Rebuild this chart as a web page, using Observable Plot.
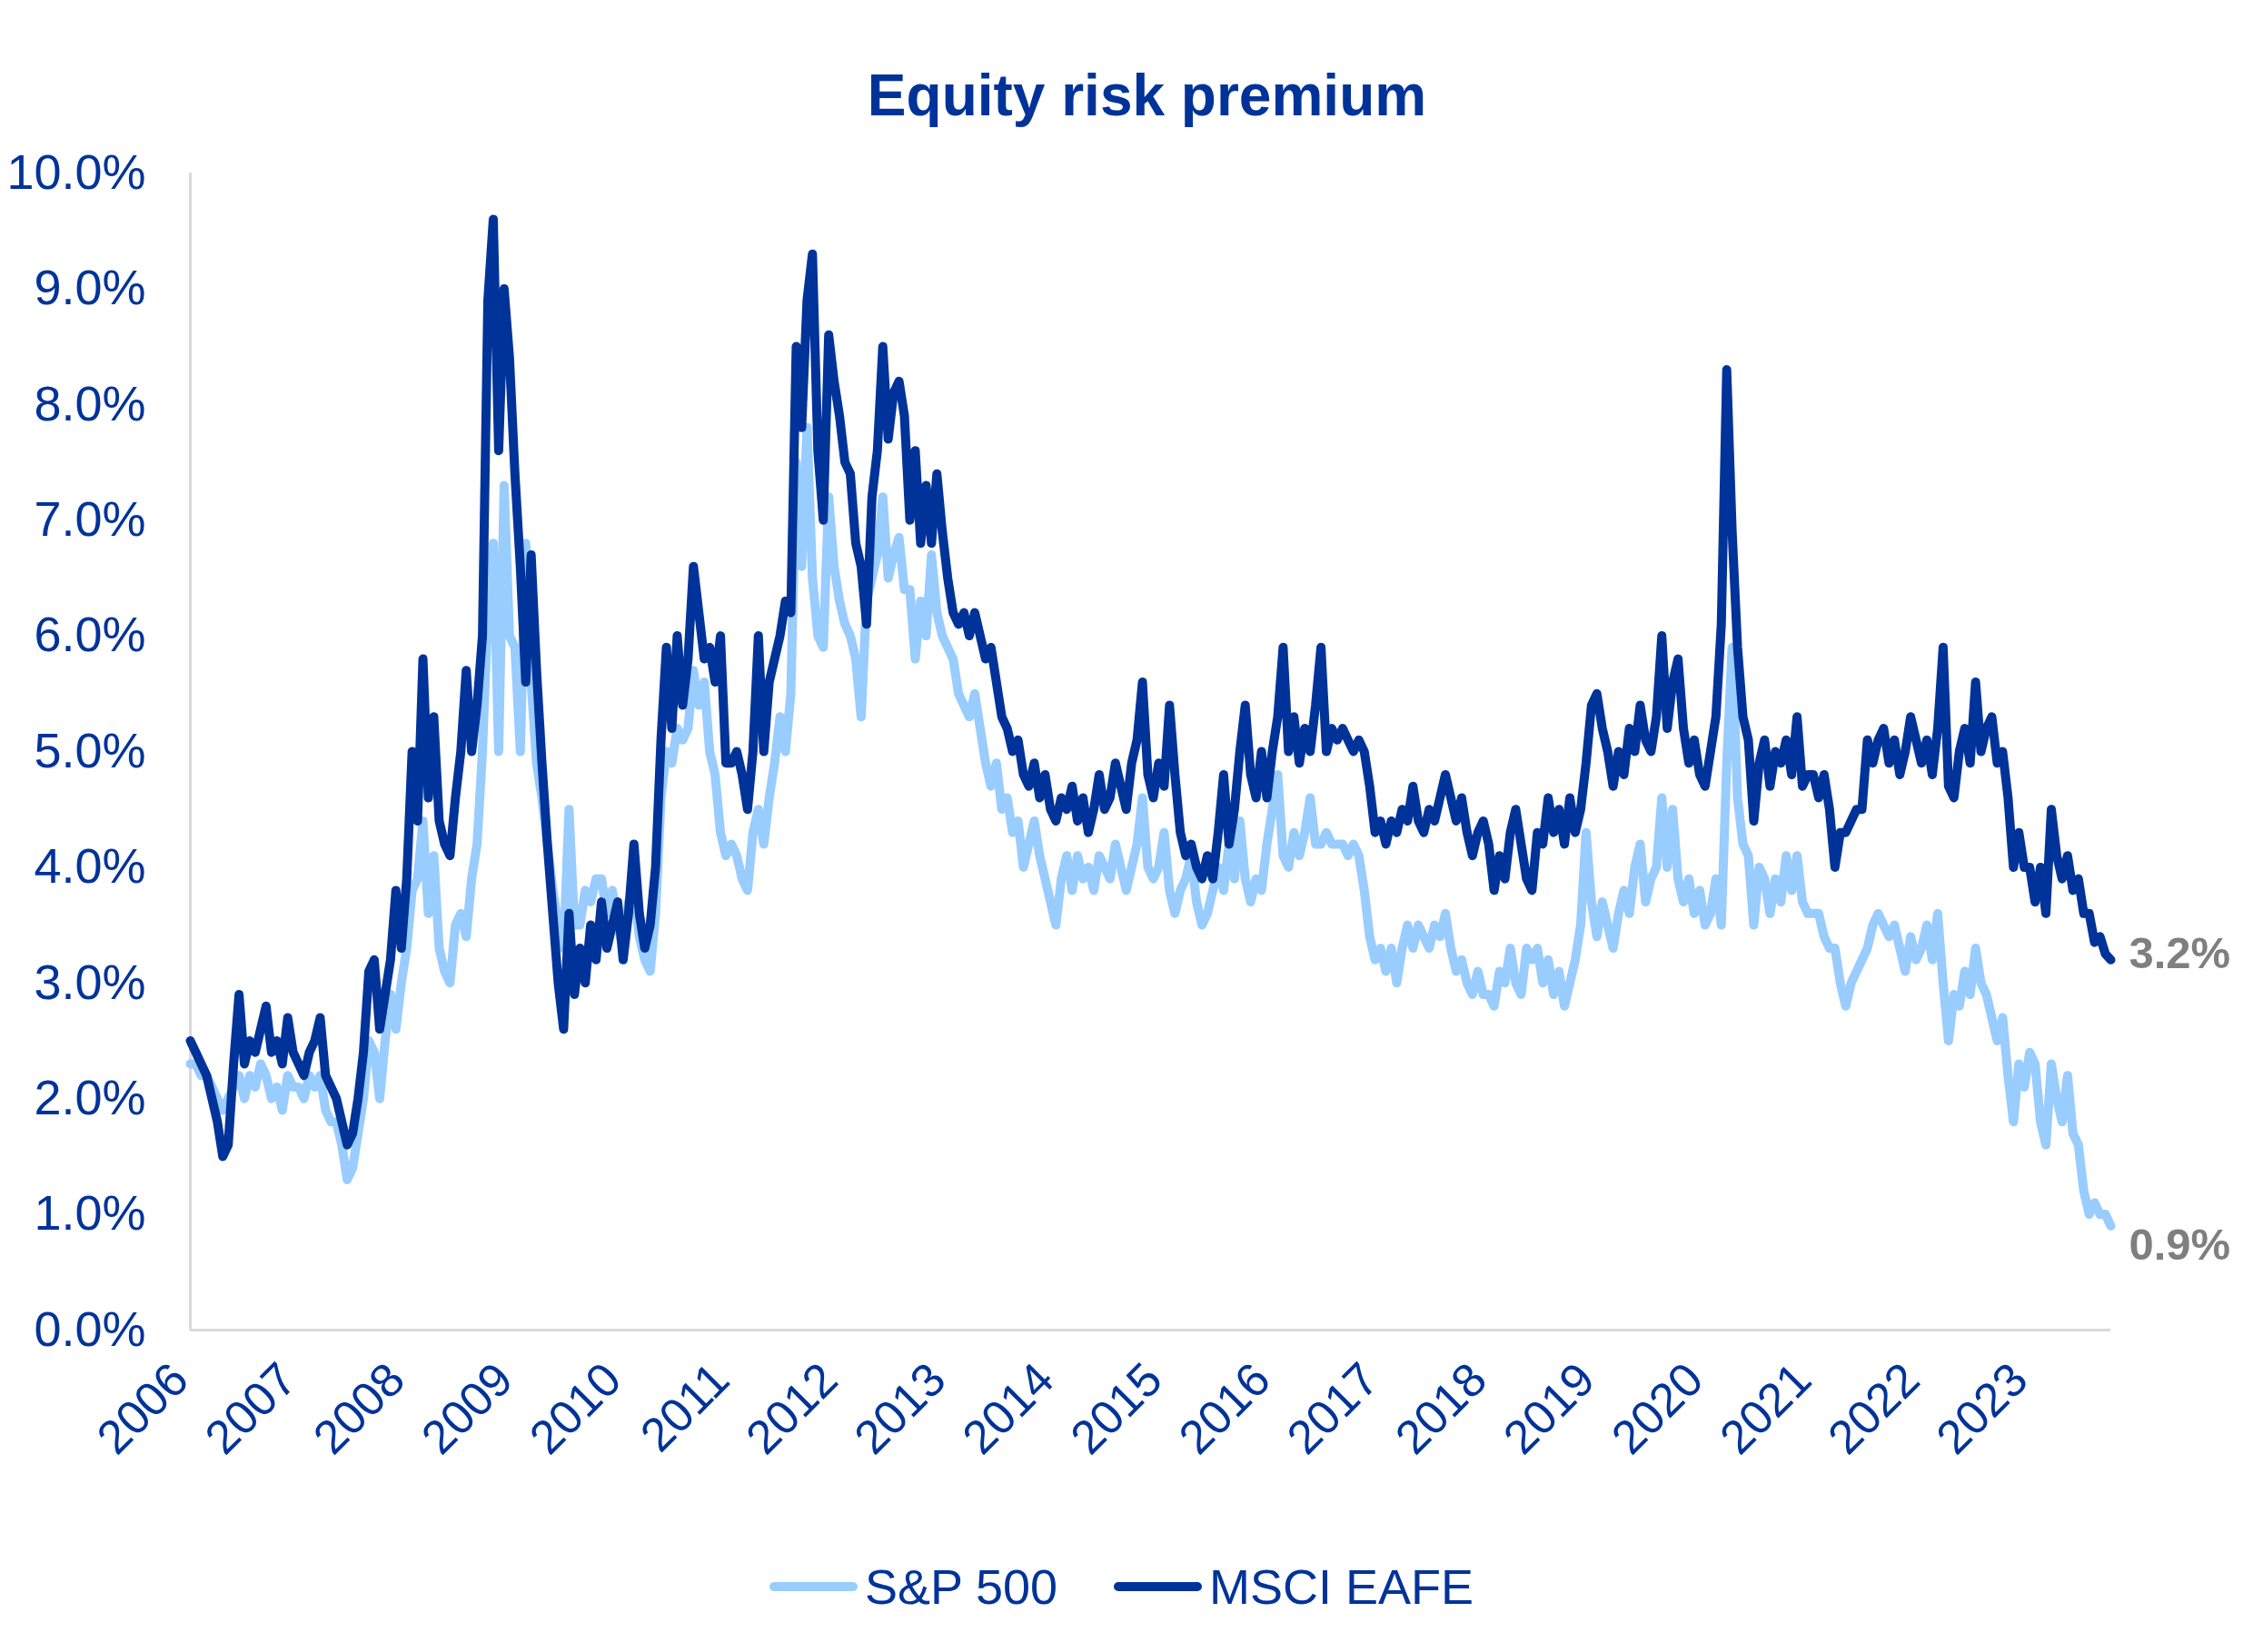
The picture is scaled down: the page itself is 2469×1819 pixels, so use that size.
<!DOCTYPE html>
<html><head><meta charset="utf-8">
<script src="https://cdn.jsdelivr.net/npm/d3@7"></script>
<script src="https://cdn.jsdelivr.net/npm/@observablehq/plot@0.6"></script>
<style>
html,body{margin:0;padding:0;background:#fff;}
body{width:2469px;height:1819px;position:relative;overflow:hidden;font-family:"Liberation Sans",Arial,sans-serif;}
#title{position:absolute;left:28px;top:73px;width:2469px;text-align:center;font-size:64px;line-height:64px;font-weight:bold;color:#003399;}
#chart{position:absolute;left:0;top:150px;}
#legend{position:absolute;left:0;top:1720px;width:2469px;height:54px;display:flex;justify-content:center;align-items:center;font-size:54px;line-height:54px;color:#003399;}
.item{display:flex;align-items:center;}
.item + .item{margin-left:62px;}
.sw{display:inline-block;width:97px;height:10px;border-radius:5px;margin-right:8px;}
</style></head>
<body>
<div id="title">Equity risk premium</div>
<div id="chart"></div>
<div id="legend"></div>
<script>
const seriesNames = ["S&P 500", "MSCI EAFE"];
const seriesColors = ["#99CCFF", "#003399"];
const yTicks = [0,1,2,3,4,5,6,7,8,9,10];
const yearTicks = [2006,2007,2008,2009,2010,2011,2012,2013,2014,2015,2016,2017,2018,2019,2020,2021,2022,2023];

const dates = [
2006.00,2006.05,2006.10,2006.15,2006.20,2006.25,2006.30,2006.35,2006.40,2006.45,2006.50,2006.55,2006.60,2006.65,2006.70,2006.75,2006.80,2006.85,2006.90,2006.95,
2007.00,2007.05,2007.10,2007.15,2007.20,2007.25,2007.30,2007.35,2007.40,2007.45,2007.50,2007.55,2007.60,2007.65,2007.70,2007.75,2007.80,2007.85,2007.90,2007.95,
2008.00,2008.05,2008.10,2008.15,2008.20,2008.25,2008.30,2008.35,2008.40,2008.45,2008.50,2008.55,2008.60,2008.65,2008.70,2008.75,2008.80,2008.85,2008.90,2008.95,
2009.00,2009.05,2009.10,2009.15,2009.20,2009.25,2009.30,2009.35,2009.40,2009.45,2009.50,2009.55,2009.60,2009.65,2009.70,2009.75,2009.80,2009.85,2009.90,2009.95,
2010.00,2010.05,2010.10,2010.15,2010.20,2010.25,2010.30,2010.35,2010.40,2010.45,2010.50,2010.55,2010.60,2010.65,2010.70,2010.75,2010.80,2010.85,2010.90,2010.95,
2011.00,2011.05,2011.10,2011.15,2011.20,2011.25,2011.30,2011.35,2011.40,2011.45,2011.50,2011.55,2011.60,2011.65,2011.70,2011.75,2011.80,2011.85,2011.90,2011.95,
2012.00,2012.05,2012.10,2012.15,2012.20,2012.25,2012.30,2012.35,2012.40,2012.45,2012.50,2012.55,2012.60,2012.65,2012.70,2012.75,2012.80,2012.85,2012.90,2012.95,
2013.00,2013.05,2013.10,2013.15,2013.20,2013.25,2013.30,2013.35,2013.40,2013.45,2013.50,2013.55,2013.60,2013.65,2013.70,2013.75,2013.80,2013.85,2013.90,2013.95,
2014.00,2014.05,2014.10,2014.15,2014.20,2014.25,2014.30,2014.35,2014.40,2014.45,2014.50,2014.55,2014.60,2014.65,2014.70,2014.75,2014.80,2014.85,2014.90,2014.95,
2015.00,2015.05,2015.10,2015.15,2015.20,2015.25,2015.30,2015.35,2015.40,2015.45,2015.50,2015.55,2015.60,2015.65,2015.70,2015.75,2015.80,2015.85,2015.90,2015.95,
2016.00,2016.05,2016.10,2016.15,2016.20,2016.25,2016.30,2016.35,2016.40,2016.45,2016.50,2016.55,2016.60,2016.65,2016.70,2016.75,2016.80,2016.85,2016.90,2016.95,
2017.00,2017.05,2017.10,2017.15,2017.20,2017.25,2017.30,2017.35,2017.40,2017.45,2017.50,2017.55,2017.60,2017.65,2017.70,2017.75,2017.80,2017.85,2017.90,2017.95,
2018.00,2018.05,2018.10,2018.15,2018.20,2018.25,2018.30,2018.35,2018.40,2018.45,2018.50,2018.55,2018.60,2018.65,2018.70,2018.75,2018.80,2018.85,2018.90,2018.95,
2019.00,2019.05,2019.10,2019.15,2019.20,2019.25,2019.30,2019.35,2019.40,2019.45,2019.50,2019.55,2019.60,2019.65,2019.70,2019.75,2019.80,2019.85,2019.90,2019.95,
2020.00,2020.05,2020.10,2020.15,2020.20,2020.25,2020.30,2020.35,2020.40,2020.45,2020.50,2020.55,2020.60,2020.65,2020.70,2020.75,2020.80,2020.85,2020.90,2020.95,
2021.00,2021.05,2021.10,2021.15,2021.20,2021.25,2021.30,2021.35,2021.40,2021.45,2021.50,2021.55,2021.60,2021.65,2021.70,2021.75,2021.80,2021.85,2021.90,2021.95,
2022.00,2022.05,2022.10,2022.15,2022.20,2022.25,2022.30,2022.35,2022.40,2022.45,2022.50,2022.55,2022.60,2022.65,2022.70,2022.75,2022.80,2022.85,2022.90,2022.95,
2023.00,2023.05,2023.10,2023.15,2023.20,2023.25,2023.30,2023.35,2023.40,2023.45,2023.50,2023.55,2023.60,2023.65,2023.70,2023.75
];

const sp500 = [
2.3,2.3,2.2,2.2,2.1,2.0,1.9,2.0,2.1,2.2,2.0,2.2,2.1,2.3,2.2,2.0,2.1,1.9,2.2,2.1,
2.1,2.0,2.2,2.1,2.2,1.9,1.8,1.8,1.6,1.3,1.4,1.7,2.0,2.5,2.4,2.0,2.5,2.9,2.6,3.0,
3.3,3.8,3.9,4.4,3.6,4.1,3.3,3.1,3.0,3.5,3.6,3.4,3.9,4.2,5.0,6.2,6.8,5.0,7.3,6.0,
5.9,5.0,6.8,5.6,4.9,4.6,4.2,3.8,3.5,3.3,4.5,3.5,3.5,3.8,3.7,3.9,3.9,3.6,3.8,3.5,
3.3,3.7,3.8,3.4,3.2,3.1,3.6,4.6,5.0,4.9,5.2,5.1,5.2,5.7,5.4,5.6,5.0,4.8,4.3,4.1,
4.2,4.1,3.9,3.8,4.3,4.5,4.2,4.6,4.9,5.3,5.0,5.5,7.5,6.6,7.8,6.5,6.0,5.9,7.2,6.6,
6.3,6.1,6.0,5.8,5.3,6.3,6.5,6.7,7.2,6.5,6.7,6.85,6.4,6.4,5.8,6.3,6.0,6.7,6.2,6.0,
5.9,5.8,5.5,5.4,5.3,5.5,5.2,4.9,4.7,4.9,4.5,4.6,4.3,4.4,4.0,4.2,4.4,4.1,3.9,3.7,
3.5,3.9,4.1,3.8,4.1,3.9,4.0,3.8,4.1,4.0,3.9,4.2,4.0,3.8,4.0,4.2,4.6,4.0,3.9,4.0,
4.3,3.8,3.6,3.8,3.9,4.1,3.7,3.5,3.6,3.8,4.0,3.8,4.2,3.9,4.4,3.9,3.7,3.9,3.8,4.2,
4.5,4.8,4.1,4.0,4.3,4.1,4.3,4.6,4.2,4.2,4.3,4.2,4.2,4.2,4.1,4.2,4.1,3.8,3.4,3.2,
3.3,3.1,3.3,3.0,3.3,3.5,3.3,3.5,3.4,3.3,3.5,3.4,3.6,3.3,3.1,3.2,3.0,2.9,3.1,2.9,
2.9,2.8,3.1,3.0,3.3,3.0,2.9,3.3,3.2,3.3,3.0,3.2,2.9,3.1,2.8,3.0,3.2,3.5,4.3,3.7,
3.4,3.7,3.5,3.3,3.6,3.8,3.6,4.0,4.2,3.7,3.9,4.0,4.6,4.0,4.5,3.9,3.7,3.9,3.6,3.8,
3.5,3.6,3.9,3.5,4.9,5.9,4.6,4.2,4.1,3.5,4.0,3.9,3.6,3.9,3.7,4.1,3.8,4.1,3.7,3.6,
3.6,3.6,3.4,3.3,3.3,3.0,2.8,3.0,3.1,3.2,3.3,3.5,3.6,3.5,3.4,3.5,3.3,3.1,3.4,3.2,
3.3,3.5,3.2,3.6,3.0,2.5,2.9,2.8,3.1,2.9,3.3,3.0,2.9,2.7,2.5,2.7,2.2,1.8,2.3,2.1,
2.4,2.3,1.8,1.6,2.3,2.0,1.8,2.2,1.7,1.6,1.2,1.0,1.1,1.0,1.0,0.9
];

const eafe = [
2.5,2.4,2.3,2.2,2.0,1.8,1.5,1.6,2.3,2.9,2.3,2.5,2.4,2.6,2.8,2.4,2.5,2.3,2.7,2.4,
2.3,2.2,2.4,2.5,2.7,2.2,2.1,2.0,1.8,1.6,1.7,2.0,2.4,3.1,3.2,2.6,2.9,3.2,3.8,3.3,
3.9,5.0,4.4,5.8,4.6,5.3,4.4,4.2,4.1,4.6,5.0,5.7,5.0,5.4,6.0,8.9,9.6,7.6,9.0,8.4,
7.4,6.6,5.6,6.7,5.7,4.9,4.2,3.6,3.0,2.6,3.6,2.9,3.3,3.0,3.5,3.2,3.7,3.3,3.5,3.7,
3.2,3.6,4.2,3.6,3.3,3.5,4.0,5.1,5.9,5.2,6.0,5.4,5.8,6.6,6.2,5.8,5.9,5.6,6.0,4.9,
4.9,5.0,4.8,4.5,5.0,6.0,5.0,5.6,5.8,6.0,6.3,6.2,8.5,7.8,8.9,9.3,7.6,7.0,8.6,8.2,
7.9,7.5,7.4,6.8,6.6,6.1,7.2,7.6,8.5,7.7,8.1,8.2,7.9,7.0,7.6,6.8,7.3,6.8,7.4,6.9,
6.5,6.2,6.1,6.2,6.0,6.2,6.0,5.8,5.9,5.6,5.3,5.2,5.0,5.1,4.8,4.7,4.9,4.6,4.8,4.5,
4.4,4.6,4.5,4.7,4.4,4.6,4.3,4.5,4.8,4.5,4.6,4.9,4.7,4.5,4.9,5.1,5.6,4.8,4.6,4.9,
4.7,5.4,4.8,4.3,4.1,4.2,4.0,3.9,4.1,3.9,4.3,4.8,4.2,4.5,5.0,5.4,4.8,4.6,5.0,4.6,
5.0,5.3,5.9,5.0,5.3,4.9,5.2,5.0,5.4,5.9,5.0,5.2,5.1,5.2,5.1,5.0,5.1,5.0,4.7,4.3,
4.4,4.2,4.4,4.3,4.5,4.4,4.7,4.4,4.3,4.5,4.4,4.6,4.8,4.6,4.4,4.6,4.3,4.1,4.3,4.4,
4.2,3.8,4.1,3.9,4.3,4.5,4.2,3.9,3.8,4.3,4.2,4.6,4.3,4.5,4.2,4.6,4.3,4.5,4.9,5.4,
5.5,5.2,5.0,4.7,5.0,4.8,5.2,5.0,5.4,5.1,5.0,5.3,6.0,5.2,5.6,5.8,5.2,4.9,5.1,4.8,
4.7,5.0,5.3,6.1,8.3,6.9,5.9,5.3,5.1,4.4,4.9,5.1,4.7,5.0,4.9,5.1,4.8,5.3,4.7,4.8,
4.8,4.6,4.8,4.5,4.0,4.3,4.3,4.4,4.5,4.5,5.1,4.9,5.1,5.2,4.9,5.1,4.8,5.0,5.3,5.1,
4.9,5.1,4.8,5.2,5.9,4.7,4.6,5.0,5.2,4.9,5.6,5.0,5.2,5.3,4.9,5.0,4.6,4.0,4.3,4.0,
4.0,3.7,4.0,3.6,4.5,4.1,3.9,4.1,3.8,3.9,3.6,3.6,3.35,3.4,3.25,3.2
];

const spRows = dates.map((d, i) => ({date: d, value: sp500[i]}));
const eafeRows = dates.map((d, i) => ({date: d, value: eafe[i]}));
const spEnd = [spRows[spRows.length - 1]];
const eafeEnd = [eafeRows[eafeRows.length - 1]];
const pct = d => d.value.toFixed(1) + "%";

const chart = Plot.plot({
  width: 2469,
  height: 1500,
  marginTop: 40,
  marginBottom: 186,
  marginLeft: 209,
  marginRight: 146,
  style: {background: "white", color: "#003399", fontFamily: "'Liberation Sans', Arial, sans-serif", overflow: "visible"},
  x: {type: "linear", domain: [2006, 2023.75]},
  y: {domain: [0, 10]},
  marks: [
    Plot.ruleY([0], {stroke: "#D9D9D9", strokeWidth: 3}),
    Plot.ruleX([2006], {y1: 0, y2: 10, stroke: "#D9D9D9", strokeWidth: 3}),
    Plot.axisY({ticks: yTicks, tickFormat: d => d.toFixed(1) + "%", tickSize: 0, tickPadding: 49, fontSize: 54, label: null}),
    Plot.axisX({ticks: yearTicks, tickFormat: d => String(d), tickSize: 0, tickPadding: 46, tickRotate: -45, dx: -11, fontSize: 52, label: null}),
    Plot.line(spRows, {x: "date", y: "value", stroke: seriesColors[0], strokeWidth: 10, strokeLinejoin: "round", strokeLinecap: "round"}),
    Plot.line(eafeRows, {x: "date", y: "value", stroke: seriesColors[1], strokeWidth: 10, strokeLinejoin: "round", strokeLinecap: "round"}),
    Plot.text(eafeEnd, {x: "date", y: "value", text: pct, dx: 20, dy: -7, textAnchor: "start", fill: "#7F7F7F", fontWeight: "bold", fontSize: 49}),
    Plot.text(spEnd, {x: "date", y: "value", text: pct, dx: 20, dy: 21, textAnchor: "start", fill: "#7F7F7F", fontWeight: "bold", fontSize: 49})
  ]
});
document.getElementById("chart").appendChild(chart);

const legend = document.getElementById("legend");
seriesNames.forEach((name, i) => {
  const item = document.createElement("div");
  item.className = "item";
  const sw = document.createElement("span");
  sw.className = "sw";
  sw.style.background = seriesColors[i];
  const label = document.createElement("span");
  label.textContent = name;
  item.appendChild(sw);
  item.appendChild(label);
  legend.appendChild(item);
});
</script>
</body></html>
